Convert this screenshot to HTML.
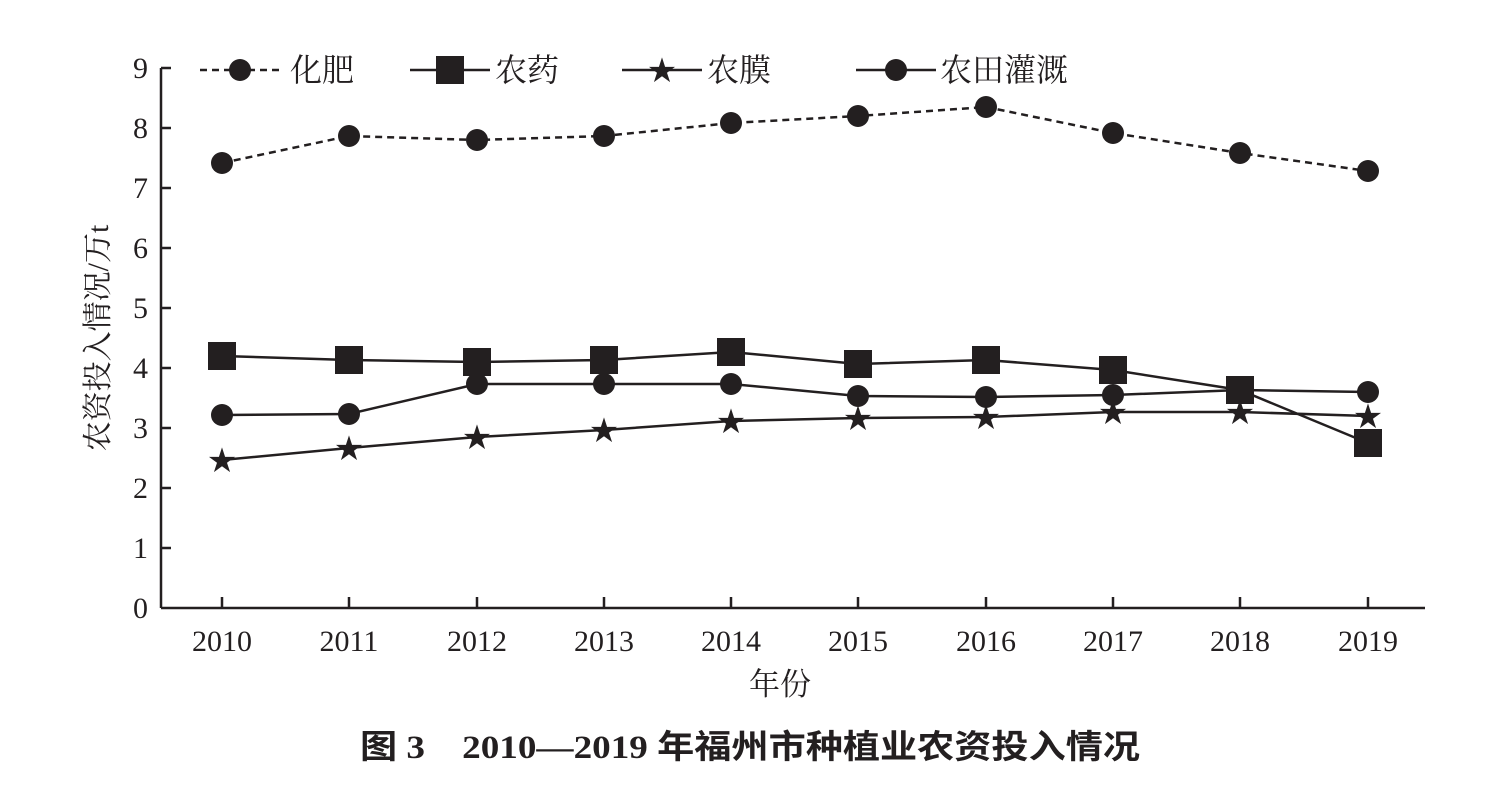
<!DOCTYPE html><html><head><meta charset="utf-8"><style>body{margin:0;background:#fff}</style></head><body>
<svg width="1505" height="804" xmlns="http://www.w3.org/2000/svg" font-family="Liberation Serif, Noto Serif CJK SC, serif" fill="#231f20">
<g stroke="#231f20" stroke-width="2.5" fill="none">
<line x1="161" y1="68" x2="161" y2="608"/><line x1="161" y1="608" x2="1425" y2="608"/>
<path d="M161 68h10M161 128h10M161 188h10M161 248h10M161 308h10M161 368h10M161 428h10M161 488h10M161 548h10"/>
<path d="M222 608v-11M349 608v-11M477 608v-11M604 608v-11M731 608v-11M858 608v-11M986 608v-11M1113 608v-11M1240 608v-11M1368 608v-11"/>
</g>
<g font-size="30" text-anchor="end">
<text x="148" y="78">9</text><text x="148" y="138">8</text><text x="148" y="198">7</text><text x="148" y="258">6</text><text x="148" y="318">5</text><text x="148" y="378">4</text><text x="148" y="438">3</text><text x="148" y="498">2</text><text x="148" y="558">1</text><text x="148" y="618">0</text></g>
<g font-size="30" text-anchor="middle">
<text x="222" y="651">2010</text><text x="349" y="651">2011</text><text x="477" y="651">2012</text><text x="604" y="651">2013</text><text x="731" y="651">2014</text><text x="858" y="651">2015</text><text x="986" y="651">2016</text><text x="1113" y="651">2017</text><text x="1240" y="651">2018</text><text x="1368" y="651">2019</text>
<text x="780" y="695" font-size="31">年份</text>
</g>
<text x="360" y="758" font-size="33" textLength="780" lengthAdjust="spacingAndGlyphs" font-family="Liberation Serif, Noto Sans CJK SC, sans-serif" font-weight="bold">图 3　2010—2019 年福州市种植业农资投入情况</text>
<text transform="translate(108,338) rotate(-90)" font-size="30" text-anchor="middle">农资投入情况/万t</text>
<g stroke="#231f20" stroke-width="2.5" fill="none">
<polyline stroke-dasharray="7,5" points="222,163 349,136 477,140 604,136 731,123 858,116 986,107 1113,133 1240,153 1368,171"/>
<polyline points="222,356 349,360 477,362 604,360 731,352 858,364 986,360 1113,370 1240,390 1368,443"/>
<polyline points="222,460 349,448 477,437 604,430 731,421 858,418 986,417 1113,412 1240,412 1368,416"/>
<polyline points="222,415 349,414 477,384 604,384 731,384 858,396 986,397 1113,395 1240,390 1368,392"/>
<line x1="200" y1="70" x2="280" y2="70" stroke-dasharray="7,5"/>
<line x1="410" y1="70" x2="490" y2="70"/><line x1="622" y1="70" x2="702" y2="70"/><line x1="856" y1="70" x2="936" y2="70"/>
</g>
<g>
<circle cx="222" cy="163" r="11"/><circle cx="349" cy="136" r="11"/><circle cx="477" cy="140" r="11"/><circle cx="604" cy="136" r="11"/><circle cx="731" cy="123" r="11"/><circle cx="858" cy="116" r="11"/><circle cx="986" cy="107" r="11"/><circle cx="1113" cy="133" r="11"/><circle cx="1240" cy="153" r="11"/><circle cx="1368" cy="171" r="11"/>
<circle cx="222" cy="415" r="11"/><circle cx="349" cy="414" r="11"/><circle cx="477" cy="384" r="11"/><circle cx="604" cy="384" r="11"/><circle cx="731" cy="384" r="11"/><circle cx="858" cy="396" r="11"/><circle cx="986" cy="397" r="11"/><circle cx="1113" cy="395" r="11"/><circle cx="1240" cy="390" r="11"/><circle cx="1368" cy="392" r="11"/>
<g transform="translate(-14,-14)"><rect x="222" y="356" width="28" height="28"/><rect x="349" y="360" width="28" height="28"/><rect x="477" y="362" width="28" height="28"/><rect x="604" y="360" width="28" height="28"/><rect x="731" y="352" width="28" height="28"/><rect x="858" y="364" width="28" height="28"/><rect x="986" y="360" width="28" height="28"/><rect x="1113" y="370" width="28" height="28"/><rect x="1240" y="390" width="28" height="28"/><rect x="1368" y="443" width="28" height="28"/></g>
<g font-size="34" text-anchor="middle" font-family="DejaVu Sans, sans-serif"><text x="222" y="472">★</text><text x="349" y="460">★</text><text x="477" y="449">★</text><text x="604" y="442">★</text><text x="731" y="433">★</text><text x="858" y="430">★</text><text x="986" y="429">★</text><text x="1113" y="424">★</text><text x="1240" y="424">★</text><text x="1368" y="428">★</text>
<text x="662" y="82">★</text></g>
<circle cx="240" cy="70" r="11"/><rect x="436" y="56" width="28" height="28"/><circle cx="896" cy="70" r="11"/>
</g>
<g font-size="32" font-family="Liberation Serif, Noto Serif CJK SC, serif"><text x="290" y="81">化肥</text><text x="495" y="81">农药</text><text x="707" y="81">农膜</text><text x="940" y="81">农田灌溉</text></g>
</svg></body></html>
